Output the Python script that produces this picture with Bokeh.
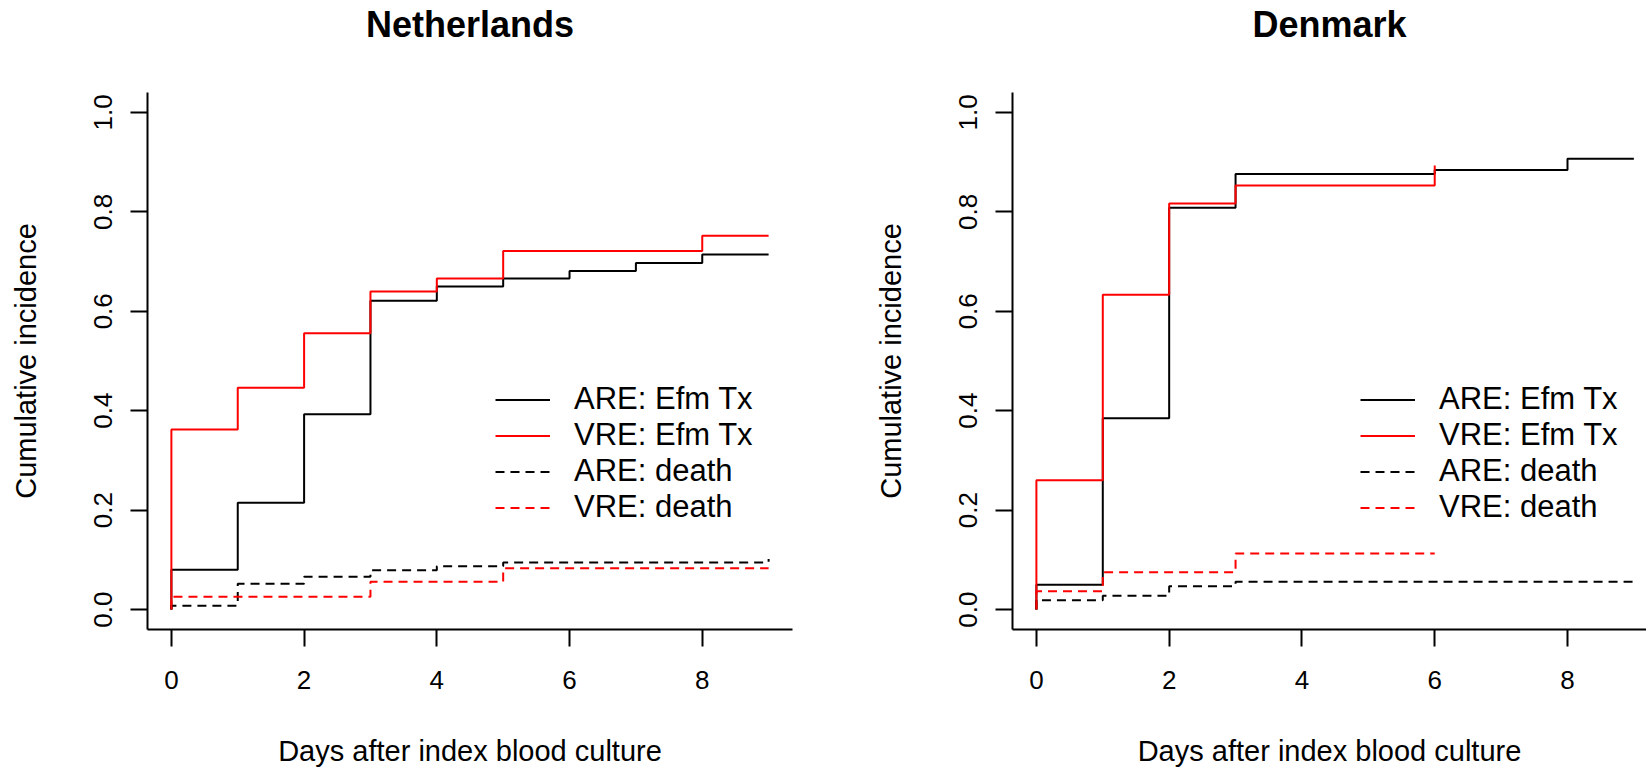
from bokeh.plotting import figure
from bokeh.models import FixedTicker, PrintfTickFormatter, Legend, LegendItem, Range1d, LinearAxis
from bokeh.layouts import row
from bokeh.embed import file_html
from bokeh.resources import INLINE

# ---------------- data ----------------
countries = ["Netherlands", "Denmark"]
series_labels = ["ARE: Efm Tx", "VRE: Efm Tx", "ARE: death", "VRE: death"]
x_ticks = [0, 2, 4, 6, 8]
y_ticks = [0.0, 0.2, 0.4, 0.6, 0.8, 1.0]

# Netherlands
days_nl_are_tx = [0, 0, 1, 2, 3, 4, 5, 6, 7, 8, 9]
cif_nl_are_tx = [0, 0.080, 0.215, 0.393, 0.621, 0.650, 0.666, 0.681, 0.697, 0.714, 0.714]
days_nl_vre_tx = [0, 0, 1, 2, 3, 4, 5, 8, 9]
cif_nl_vre_tx = [0, 0.362, 0.446, 0.556, 0.640, 0.666, 0.721, 0.752, 0.752]
days_nl_are_death = [0, 0, 1, 2, 3, 4, 5, 9]
cif_nl_are_death = [0, 0.008, 0.052, 0.066, 0.079, 0.087, 0.095, 0.102]
days_nl_vre_death = [0, 0, 3, 5, 9]
cif_nl_vre_death = [0, 0.026, 0.056, 0.083, 0.083]

# Denmark
days_dk_are_tx = [0, 0, 1, 2, 3, 6, 8, 9]
cif_dk_are_tx = [0, 0.050, 0.385, 0.808, 0.876, 0.884, 0.907, 0.907]
days_dk_vre_tx = [0, 0, 1, 2, 3, 6]
cif_dk_vre_tx = [0, 0.260, 0.633, 0.817, 0.853, 0.893]
days_dk_are_death = [0, 0, 1, 2, 3, 9]
cif_dk_are_death = [0, 0.019, 0.028, 0.047, 0.056, 0.056]
days_dk_vre_death = [0, 0, 1, 3, 6]
cif_dk_vre_death = [0, 0.037, 0.075, 0.113, 0.113]

FONT = "Liberation Sans"
TICK_FS = "26px"
LAB_FS = "29px"
LEG_FS = "31px"
TITLE_FS = "36px"
FIG_H = 775
FRAME_TOP = 92
FRAME_BOTTOM = 629


def make_panel(title, series, width, border_left, border_right, x_end, legend_x):
    p = figure(width=width, height=FIG_H, output_backend="svg", toolbar_location=None,
               x_range=Range1d(-0.36, x_end), y_range=Range1d(-0.04, 1.04),
               min_border_left=border_left, min_border_right=border_right,
               min_border_top=FRAME_TOP, min_border_bottom=FIG_H - FRAME_BOTTOM)
    p.outline_line_color = None
    p.grid.visible = False
    p.background_fill_color = "white"
    p.border_fill_color = "white"

    for ax in (p.xaxis[0], p.yaxis[0]):
        ax.axis_line_width = 2
        ax.axis_line_color = "black"
        ax.major_tick_line_width = 2
        ax.major_tick_line_color = "black"
        ax.major_tick_out = 17
        ax.major_tick_in = 0
        ax.minor_tick_out = 0
        ax.minor_tick_in = 0
        ax.major_label_text_font = FONT
        ax.major_label_text_font_size = TICK_FS
        ax.major_label_text_color = "black"
        ax.axis_label_text_font = FONT
        ax.axis_label_text_font_size = LAB_FS
        ax.axis_label_text_font_style = "normal"
        ax.axis_label_text_color = "black"

    p.xaxis.ticker = FixedTicker(ticks=x_ticks)
    p.xaxis.axis_label = "Days after index blood culture"
    p.xaxis.major_label_standoff = 24
    p.xaxis.axis_label_standoff = 43

    p.yaxis.ticker = FixedTicker(ticks=y_ticks)
    p.yaxis.formatter = PrintfTickFormatter(format="%.1f")
    p.yaxis.major_label_orientation = "vertical"
    p.yaxis.axis_label = "Cumulative incidence"
    p.yaxis.major_label_standoff = 18
    p.yaxis.axis_label_standoff = 50

    # panel title: label of a tick-less axis above the plotting region
    tax = LinearAxis(ticker=FixedTicker(ticks=[]), axis_label=title,
                     axis_line_color=None, major_tick_out=0, major_tick_in=0,
                     minor_tick_out=0, minor_tick_in=0, major_label_standoff=0,
                     major_label_text_font_size="0px", axis_label_standoff=48,
                     axis_label_text_font=FONT, axis_label_text_font_size=TITLE_FS,
                     axis_label_text_font_style="bold", axis_label_text_color="black")
    p.add_layout(tax, "above")

    colors = ["black", "red", "black", "red"]
    dashes = ["solid", "solid", "9 6", "9 6"]
    items = []
    for (xs, ys), lab, c, d in zip(series, series_labels, colors, dashes):
        r = p.step(x=xs, y=ys, mode="after", line_color=c, line_width=2, line_dash=d)
        items.append(LegendItem(label=lab, renderers=[r]))

    leg = Legend(items=items, location=(legend_x, 104))
    leg.label_text_font = FONT
    leg.label_text_font_size = LEG_FS
    leg.label_text_color = "black"
    leg.glyph_width = 55
    leg.glyph_height = 35
    leg.label_height = 35
    leg.label_standoff = 24
    leg.spacing = 0
    leg.padding = 0
    leg.margin = 0
    leg.border_line_alpha = 0
    leg.background_fill_alpha = 0
    p.add_layout(leg)
    return p


p_nl = make_panel(countries[0],
                  [(days_nl_are_tx, cif_nl_are_tx), (days_nl_vre_tx, cif_nl_vre_tx),
                   (days_nl_are_death, cif_nl_are_death), (days_nl_vre_death, cif_nl_vre_death)],
                  width=870, border_left=147, border_right=78, x_end=9.36, legend_x=348)
p_dk = make_panel(countries[1],
                  [(days_dk_are_tx, cif_dk_are_tx), (days_dk_vre_tx, cif_dk_vre_tx),
                   (days_dk_are_death, cif_dk_are_death), (days_dk_vre_death, cif_dk_vre_death)],
                  width=776, border_left=142, border_right=0, x_end=9.19, legend_x=348)

layout = row(p_nl, p_dk, spacing=0)
open("out.html", "w").write(file_html(layout, INLINE))
